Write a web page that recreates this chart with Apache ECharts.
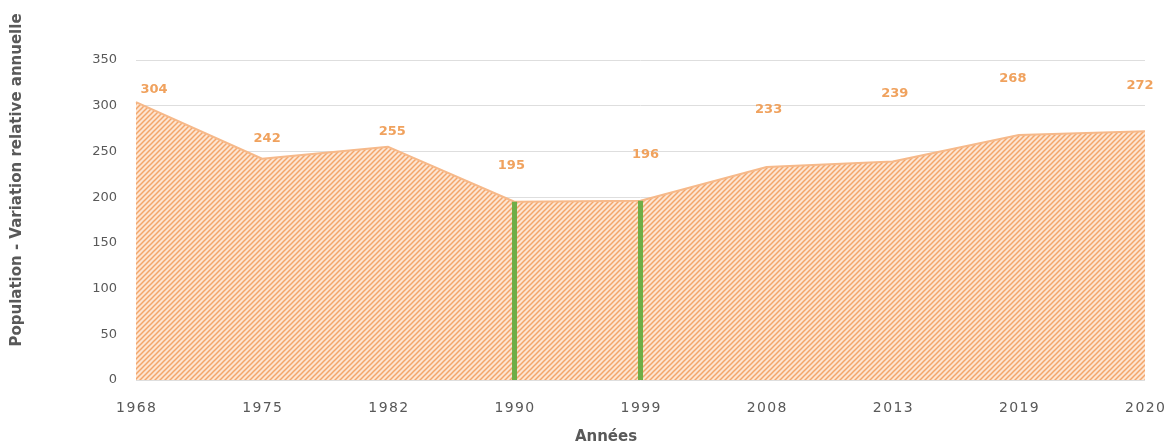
<!DOCTYPE html>
<html>
<head>
<meta charset="utf-8">
<script src="https://cdn.jsdelivr.net/npm/echarts@6/dist/echarts.min.js"></script>
<style>
html,body{margin:0;padding:0;background:#fff;}
#main{width:1174px;height:447px;}
</style>
</head>
<body>
<div id="main"></div>
<script>
// données
var annees = ['1968','1975','1982','1990','1999','2008','2013','2019','2020'];
var population = [304, 242, 255, 195, 196, 233, 239, 268, 272];
var yTicks = [0, 50, 100, 150, 200, 250, 300, 350];
var anneesRepere = ['1990', '1999'];

// décalage des étiquettes (comme sur l'original)
var labelOffsets = [[18,0],[5,-8],[4,-3],[-3,-24],[5,-34],[2,-45],[2,-56],[-6,-44],[-5,-34]];

// motif hachuré
var tile = document.createElement('canvas');
tile.width = 5; tile.height = 5;
var ctx = tile.getContext('2d');
ctx.fillStyle = '#fde5d2';
ctx.fillRect(0,0,5,5);
ctx.strokeStyle = '#f3a66b';
ctx.lineWidth = 1.5;
ctx.beginPath();
ctx.moveTo(-1,6); ctx.lineTo(6,-1);
ctx.moveTo(-1,1); ctx.lineTo(1,-1);
ctx.moveTo(4,6); ctx.lineTo(6,4);
ctx.stroke();

var seriesData = population.map(function(v, i){
	return {value: v, label: {offset: labelOffsets[i]}};
});

var markData = anneesRepere.map(function(a){
	var idx = annees.indexOf(a);
	return [{coord: [a, 0]}, {coord: [a, population[idx]]}];
});

var myChart = echarts.init(document.getElementById('main'));
var option = {
	animation: false,
	grid: {left: 136, right: 29, top: 60, bottom: 67},
	graphic: [
		{
			type: 'text', x: 17, y: 180, rotation: Math.PI / 2,
			style: {
				text: 'Population - Variation relative annuelle',
				fill: '#595959', font: 'bold 15px "DejaVu Sans"',
				textAlign: 'center', textVerticalAlign: 'middle'
			}
		},
		{
			type: 'text', x: 606, y: 437,
			style: {
				text: 'Années',
				fill: '#595959', font: 'bold 15px "DejaVu Sans"',
				textAlign: 'center', textVerticalAlign: 'middle'
			}
		}
	],
	xAxis: {
		type: 'category',
		data: annees,
		boundaryGap: false,
		axisLine: {show: false},
		axisTick: {show: false},
		axisLabel: {
			color: '#595959', fontSize: 14, margin: 21, fontFamily: 'DejaVu Sans',
			formatter: function(v){ return v.split('').join('\u200A'); }
		}
	},
	yAxis: {
		type: 'value',
		min: yTicks[0],
		max: yTicks[yTicks.length - 1],
		interval: 50,
		axisLine: {show: false},
		axisTick: {show: false},
		axisLabel: {color: '#595959', fontSize: 13, margin: 19, fontFamily: 'DejaVu Sans'},
		splitLine: {lineStyle: {color: '#dedede', width: 1}}
	},
	series: [{
		type: 'line',
		data: seriesData,
		symbol: 'circle',
		symbolSize: 1,
		showSymbol: true,
		itemStyle: {color: 'rgba(0,0,0,0)'},
		lineStyle: {color: '#f6b98a', width: 2},
		areaStyle: {color: {image: tile, repeat: 'repeat'}, opacity: 1},
		label: {
			show: true,
			position: 'top',
			color: '#f0a25e',
			fontWeight: 'bold',
			fontSize: 13,
			fontFamily: 'DejaVu Sans'
		},
		markLine: {
			silent: true,
			symbol: 'none',
			label: {show: false},
			lineStyle: {color: '#70ad47', width: 5, type: 'solid'},
			data: markData
		}
	}]
};
myChart.setOption(option);
</script>
</body>
</html>
